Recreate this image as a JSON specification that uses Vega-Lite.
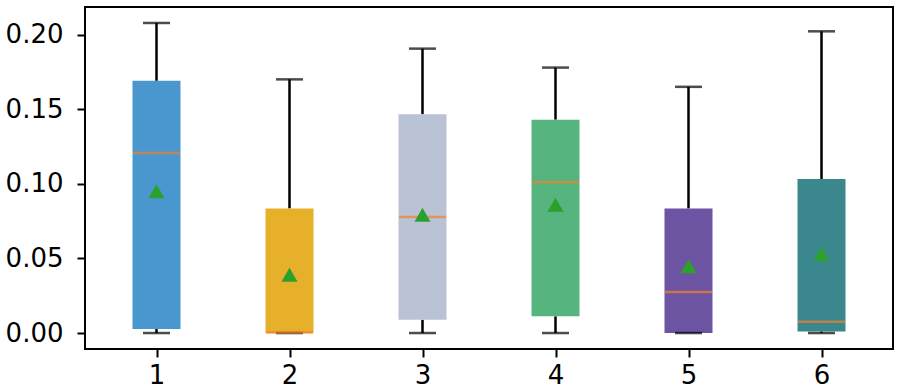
{
  "$schema": "https://vega.github.io/schema/vega-lite/v6.json",
  "width": 808,
  "height": 342,
  "autosize": "none",
  "padding": {"left": 85, "top": 7, "right": 7, "bottom": 43},
  "background": "white",
  "config": {
    "view": {"stroke": "black", "strokeWidth": 2},
    "font": "DejaVu Sans",
    "axis": {"grid": false, "domain": false, "labelFont": "DejaVu Sans", "labelFontSize": 26, "labelColor": "black", "tickColor": "black", "tickWidth": 2, "tickSize": 8, "title": null}
  },
  "data": {
    "values": [
      {"g": 1, "lo": 0, "q1": 0.0027, "med": 0.1207, "q3": 0.169, "hi": 0.2078, "mean": 0.095},
      {"g": 2, "lo": 0, "q1": 0.0, "med": 0.0003, "q3": 0.0835, "hi": 0.170, "mean": 0.039},
      {"g": 3, "lo": 0, "q1": 0.0089, "med": 0.0778, "q3": 0.1466, "hi": 0.1906, "mean": 0.0793},
      {"g": 4, "lo": 0, "q1": 0.0112, "med": 0.101, "q3": 0.143, "hi": 0.1779, "mean": 0.086},
      {"g": 5, "lo": 0, "q1": 0.0, "med": 0.0275, "q3": 0.0835, "hi": 0.165, "mean": 0.0447},
      {"g": 6, "lo": 0, "q1": 0.001, "med": 0.0076, "q3": 0.1032, "hi": 0.2022, "mean": 0.053}
    ]
  },
  "encoding": {
    "x": {"field": "g", "type": "quantitative", "scale": {"domain": [0.5, 6.5], "nice": false, "zero": false}, "axis": {"values": [1, 2, 3, 4, 5, 6], "format": "d", "labelPadding": 5}}
  },
  "layer": [
    {
      "mark": {"type": "rule", "color": "black", "strokeWidth": 2.5},
      "encoding": {
        "y": {"field": "lo", "type": "quantitative", "scale": {"domain": [-0.0107, 0.2185], "nice": false, "zero": false}, "axis": {"values": [0, 0.05, 0.1, 0.15, 0.2], "format": ".2f", "labelPadding": 14}},
        "y2": {"field": "q1"}
      }
    },
    {
      "mark": {"type": "rule", "color": "black", "strokeWidth": 2.5},
      "encoding": {
        "y": {"field": "q3", "type": "quantitative"},
        "y2": {"field": "hi"}
      }
    },
    {
      "mark": {"type": "bar", "size": 48},
      "encoding": {
        "y": {"field": "q1", "type": "quantitative"},
        "y2": {"field": "q3"},
        "color": {"field": "g", "type": "nominal", "scale": {"domain": [1, 2, 3, 4, 5, 6], "range": ["#4a97d0", "#e6b02b", "#bac3d6", "#56b57f", "#6d54a3", "#3a888e"]}, "legend": null}
      }
    },
    {
      "mark": {"type": "tick", "orient": "horizontal", "size": 27, "thickness": 2.5, "color": "black"},
      "encoding": {"y": {"field": "lo", "type": "quantitative"}}
    },
    {
      "mark": {"type": "tick", "orient": "horizontal", "size": 27, "thickness": 2.5, "color": "black"},
      "encoding": {"y": {"field": "hi", "type": "quantitative"}}
    },
    {
      "mark": {"type": "tick", "orient": "horizontal", "size": 47, "thickness": 2.5, "color": "#f0822f"},
      "encoding": {"y": {"field": "med", "type": "quantitative"}}
    },
    {
      "mark": {"type": "point", "shape": "triangle-up", "filled": true, "size": 260, "color": "#2ca02c", "opacity": 1},
      "encoding": {"y": {"field": "mean", "type": "quantitative"}}
    }
  ]
}
